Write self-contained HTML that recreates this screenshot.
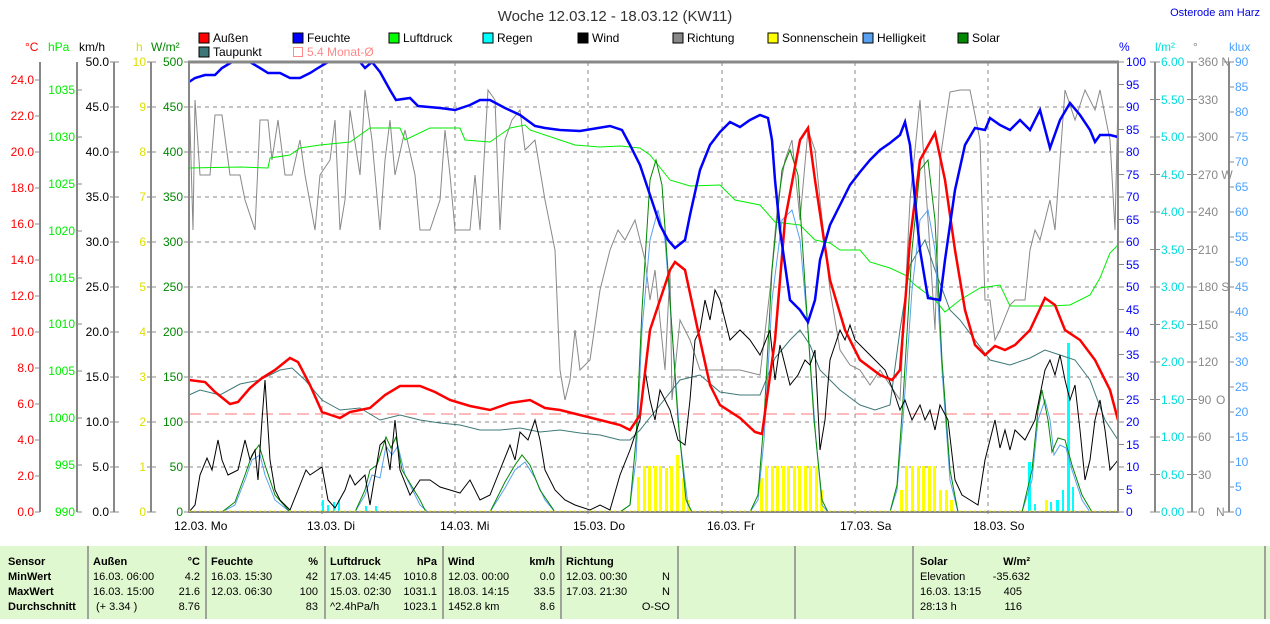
<!DOCTYPE html>
<html><head><meta charset="utf-8"><style>
body{margin:0;background:#fff;width:1270px;height:619px;overflow:hidden;font-family:"Liberation Sans",sans-serif}
svg text{font-family:"Liberation Sans",sans-serif}
</style></head><body>
<svg width="1270" height="619" viewBox="0 0 1270 619" xmlns="http://www.w3.org/2000/svg">
<text x="615" y="21" font-size="15" text-anchor="middle" fill="#333">Woche 12.03.12 - 18.03.12 (KW11)</text>
<text x="1260" y="16" font-size="11" text-anchor="end" fill="#0000e0">Osterode am Harz</text>
<!-- legend -->
<g font-size="12" fill="#000">
<rect x="199" y="33" width="10" height="10" fill="#f00" stroke="#000"/><text x="213" y="42">Außen</text>
<rect x="293" y="33" width="10" height="10" fill="#00f" stroke="#000"/><text x="307" y="42">Feuchte</text>
<rect x="389" y="33" width="10" height="10" fill="#0f0" stroke="#000"/><text x="403" y="42">Luftdruck</text>
<rect x="483" y="33" width="10" height="10" fill="#0ff" stroke="#000"/><text x="497" y="42">Regen</text>
<rect x="578" y="33" width="10" height="10" fill="#000" stroke="#000"/><text x="592" y="42">Wind</text>
<rect x="673" y="33" width="10" height="10" fill="#888" stroke="#000"/><text x="687" y="42">Richtung</text>
<rect x="768" y="33" width="10" height="10" fill="#ff0" stroke="#000"/><text x="782" y="42">Sonnenschein</text>
<rect x="863" y="33" width="10" height="10" fill="#5aa0f0" stroke="#000"/><text x="877" y="42">Helligkeit</text>
<rect x="958" y="33" width="10" height="10" fill="#080" stroke="#000"/><text x="972" y="42">Solar</text>
<rect x="199" y="47" width="10" height="10" fill="#3d7878" stroke="#000"/><text x="213" y="56">Taupunkt</text>
<rect x="293.5" y="47.5" width="9" height="9" fill="none" stroke="#f88"/><text x="307" y="56" fill="#f88">5.4 Monat-Ø</text>
</g>
<!-- units -->
<g font-size="12">
<text x="25" y="51" fill="#f00">°C</text><text x="48" y="51" fill="#0e0">hPa</text><text x="79" y="51" fill="#000">km/h</text>
<text x="136" y="51" fill="#dd0">h</text><text x="151" y="51" fill="#080">W/m²</text>
<text x="1119" y="51" fill="#00f">%</text><text x="1155" y="51" fill="#0dd">l/m²</text><text x="1193" y="51" fill="#888">°</text><text x="1229" y="51" fill="#4aa0ff">klux</text>
</g>
<!-- axis lines -->
<g stroke="#888" stroke-width="2">
<line x1="40" y1="62" x2="40" y2="512"/><line x1="77" y1="62" x2="77" y2="512"/><line x1="114" y1="62" x2="114" y2="512"/><line x1="151" y1="62" x2="151" y2="512"/>
<line x1="1155" y1="62" x2="1155" y2="512"/><line x1="1192" y1="62" x2="1192" y2="512"/><line x1="1229" y1="62" x2="1229" y2="512"/>
</g>
<!-- grid -->
<g stroke="#888" stroke-dasharray="4,4" stroke-width="1">
<line x1="189" y1="107" x2="1118" y2="107"/><line x1="189" y1="152" x2="1118" y2="152"/><line x1="189" y1="197" x2="1118" y2="197"/><line x1="189" y1="242" x2="1118" y2="242"/><line x1="189" y1="287" x2="1118" y2="287"/><line x1="189" y1="332" x2="1118" y2="332"/><line x1="189" y1="377" x2="1118" y2="377"/><line x1="189" y1="422" x2="1118" y2="422"/><line x1="189" y1="467" x2="1118" y2="467"/>
<line x1="322" y1="62" x2="322" y2="518"/><line x1="455" y1="62" x2="455" y2="518"/><line x1="588" y1="62" x2="588" y2="518"/><line x1="722" y1="62" x2="722" y2="518"/><line x1="855" y1="62" x2="855" y2="518"/><line x1="988" y1="62" x2="988" y2="518"/>
</g>
<!-- left tick labels -->
<g font-size="12" text-anchor="end" fill="#f00">
<text x="34" y="516">0.0</text><text x="34" y="480">2.0</text><text x="34" y="444">4.0</text><text x="34" y="408">6.0</text><text x="34" y="372">8.0</text><text x="34" y="336">10.0</text><text x="34" y="300">12.0</text><text x="34" y="264">14.0</text><text x="34" y="228">16.0</text><text x="34" y="192">18.0</text><text x="34" y="156">20.0</text><text x="34" y="120">22.0</text><text x="34" y="84">24.0</text>
</g>
<g stroke="#888"><line x1="35" y1="512" x2="40" y2="512"/><line x1="35" y1="476" x2="40" y2="476"/><line x1="35" y1="440" x2="40" y2="440"/><line x1="35" y1="404" x2="40" y2="404"/><line x1="35" y1="368" x2="40" y2="368"/><line x1="35" y1="332" x2="40" y2="332"/><line x1="35" y1="296" x2="40" y2="296"/><line x1="35" y1="260" x2="40" y2="260"/><line x1="35" y1="224" x2="40" y2="224"/><line x1="35" y1="188" x2="40" y2="188"/><line x1="35" y1="152" x2="40" y2="152"/><line x1="35" y1="116" x2="40" y2="116"/><line x1="35" y1="80" x2="40" y2="80"/>
<line x1="77" y1="512" x2="82" y2="512"/><line x1="77" y1="465" x2="82" y2="465"/><line x1="77" y1="418" x2="82" y2="418"/><line x1="77" y1="371" x2="82" y2="371"/><line x1="77" y1="324" x2="82" y2="324"/><line x1="77" y1="278" x2="82" y2="278"/><line x1="77" y1="231" x2="82" y2="231"/><line x1="77" y1="184" x2="82" y2="184"/><line x1="77" y1="137" x2="82" y2="137"/><line x1="77" y1="90" x2="82" y2="90"/></g>
<g font-size="12" text-anchor="end" fill="#0e0">
<text x="75" y="516">990</text><text x="75" y="469">995</text><text x="75" y="422">1000</text><text x="75" y="375">1005</text><text x="75" y="328">1010</text><text x="75" y="282">1015</text><text x="75" y="235">1020</text><text x="75" y="188">1025</text><text x="75" y="141">1030</text><text x="75" y="94">1035</text>
</g>
<g font-size="12" text-anchor="end" fill="#000">
<text x="109" y="516">0.0</text><text x="109" y="471">5.0</text><text x="109" y="426">10.0</text><text x="109" y="381">15.0</text><text x="109" y="336">20.0</text><text x="109" y="291">25.0</text><text x="109" y="246">30.0</text><text x="109" y="201">35.0</text><text x="109" y="156">40.0</text><text x="109" y="111">45.0</text><text x="109" y="66">50.0</text>
</g>
<g font-size="12" text-anchor="end" fill="#dd0">
<text x="146" y="516">0</text><text x="146" y="471">1</text><text x="146" y="426">2</text><text x="146" y="381">3</text><text x="146" y="336">4</text><text x="146" y="291">5</text><text x="146" y="246">6</text><text x="146" y="201">7</text><text x="146" y="156">8</text><text x="146" y="111">9</text><text x="146" y="66">10</text>
</g>
<g font-size="12" text-anchor="end" fill="#080">
<text x="183" y="516">0</text><text x="183" y="471">50</text><text x="183" y="426">100</text><text x="183" y="381">150</text><text x="183" y="336">200</text><text x="183" y="291">250</text><text x="183" y="246">300</text><text x="183" y="201">350</text><text x="183" y="156">400</text><text x="183" y="111">450</text><text x="183" y="66">500</text>
</g>
<g stroke="#888"><line x1="110" y1="512" x2="119" y2="512"/><line x1="110" y1="467" x2="119" y2="467"/><line x1="110" y1="422" x2="119" y2="422"/><line x1="110" y1="377" x2="119" y2="377"/><line x1="110" y1="332" x2="119" y2="332"/><line x1="110" y1="287" x2="119" y2="287"/><line x1="110" y1="242" x2="119" y2="242"/><line x1="110" y1="197" x2="119" y2="197"/><line x1="110" y1="152" x2="119" y2="152"/><line x1="110" y1="107" x2="119" y2="107"/><line x1="110" y1="62" x2="119" y2="62"/>
<line x1="147" y1="512" x2="156" y2="512"/><line x1="147" y1="467" x2="156" y2="467"/><line x1="147" y1="422" x2="156" y2="422"/><line x1="147" y1="377" x2="156" y2="377"/><line x1="147" y1="332" x2="156" y2="332"/><line x1="147" y1="287" x2="156" y2="287"/><line x1="147" y1="242" x2="156" y2="242"/><line x1="147" y1="197" x2="156" y2="197"/><line x1="147" y1="152" x2="156" y2="152"/><line x1="147" y1="107" x2="156" y2="107"/><line x1="147" y1="62" x2="156" y2="62"/>
<line x1="184" y1="512" x2="189" y2="512"/><line x1="184" y1="467" x2="189" y2="467"/><line x1="184" y1="422" x2="189" y2="422"/><line x1="184" y1="377" x2="189" y2="377"/><line x1="184" y1="332" x2="189" y2="332"/><line x1="184" y1="287" x2="189" y2="287"/><line x1="184" y1="242" x2="189" y2="242"/><line x1="184" y1="197" x2="189" y2="197"/><line x1="184" y1="152" x2="189" y2="152"/><line x1="184" y1="107" x2="189" y2="107"/><line x1="184" y1="62" x2="189" y2="62"/></g>
<!-- right tick labels -->
<g font-size="12" fill="#00f">
<text x="1126" y="516">0</text><text x="1126" y="494">5</text><text x="1126" y="471">10</text><text x="1126" y="449">15</text><text x="1126" y="426">20</text><text x="1126" y="404">25</text><text x="1126" y="381">30</text><text x="1126" y="359">35</text><text x="1126" y="336">40</text><text x="1126" y="314">45</text><text x="1126" y="291">50</text><text x="1126" y="269">55</text><text x="1126" y="246">60</text><text x="1126" y="224">65</text><text x="1126" y="201">70</text><text x="1126" y="179">75</text><text x="1126" y="156">80</text><text x="1126" y="134">85</text><text x="1126" y="111">90</text><text x="1126" y="89">95</text><text x="1126" y="66">100</text>
</g>
<g font-size="12" fill="#0dd">
<text x="1161" y="516">0.00</text><text x="1161" y="479">0.50</text><text x="1161" y="441">1.00</text><text x="1161" y="404">1.50</text><text x="1161" y="366">2.00</text><text x="1161" y="329">2.50</text><text x="1161" y="291">3.00</text><text x="1161" y="254">3.50</text><text x="1161" y="216">4.00</text><text x="1161" y="179">4.50</text><text x="1161" y="141">5.00</text><text x="1161" y="104">5.50</text><text x="1161" y="66">6.00</text>
</g>
<g font-size="12" fill="#888">
<text x="1198" y="516">0</text><text x="1198" y="479">30</text><text x="1198" y="441">60</text><text x="1198" y="404">90</text><text x="1198" y="366">120</text><text x="1198" y="329">150</text><text x="1198" y="291">180 S</text><text x="1198" y="254">210</text><text x="1198" y="216">240</text><text x="1198" y="179">270 W</text><text x="1198" y="141">300</text><text x="1198" y="104">330</text><text x="1198" y="66">360 N</text>
<text x="1216" y="516">N</text><text x="1216" y="404">O</text>
</g>
<g font-size="12" fill="#4aa0ff">
<text x="1235" y="516">0</text><text x="1235" y="491">5</text><text x="1235" y="466">10</text><text x="1235" y="441">15</text><text x="1235" y="416">20</text><text x="1235" y="391">25</text><text x="1235" y="366">30</text><text x="1235" y="341">35</text><text x="1235" y="316">40</text><text x="1235" y="291">45</text><text x="1235" y="266">50</text><text x="1235" y="241">55</text><text x="1235" y="216">60</text><text x="1235" y="191">65</text><text x="1235" y="166">70</text><text x="1235" y="141">75</text><text x="1235" y="116">80</text><text x="1235" y="91">85</text><text x="1235" y="66">90</text>
</g>
<g stroke="#888">
<line x1="1118" y1="512" x2="1124" y2="512"/><line x1="1118" y1="489.5" x2="1124" y2="489.5"/><line x1="1118" y1="467" x2="1124" y2="467"/><line x1="1118" y1="444.5" x2="1124" y2="444.5"/><line x1="1118" y1="422" x2="1124" y2="422"/><line x1="1118" y1="399.5" x2="1124" y2="399.5"/><line x1="1118" y1="377" x2="1124" y2="377"/><line x1="1118" y1="354.5" x2="1124" y2="354.5"/><line x1="1118" y1="332" x2="1124" y2="332"/><line x1="1118" y1="309.5" x2="1124" y2="309.5"/><line x1="1118" y1="287" x2="1124" y2="287"/><line x1="1118" y1="264.5" x2="1124" y2="264.5"/><line x1="1118" y1="242" x2="1124" y2="242"/><line x1="1118" y1="219.5" x2="1124" y2="219.5"/><line x1="1118" y1="197" x2="1124" y2="197"/><line x1="1118" y1="174.5" x2="1124" y2="174.5"/><line x1="1118" y1="152" x2="1124" y2="152"/><line x1="1118" y1="129.5" x2="1124" y2="129.5"/><line x1="1118" y1="107" x2="1124" y2="107"/><line x1="1118" y1="84.5" x2="1124" y2="84.5"/><line x1="1118" y1="62" x2="1124" y2="62"/>
<line x1="1150" y1="512" x2="1160" y2="512"/><line x1="1150" y1="474.5" x2="1160" y2="474.5"/><line x1="1150" y1="437" x2="1160" y2="437"/><line x1="1150" y1="399.5" x2="1160" y2="399.5"/><line x1="1150" y1="362" x2="1160" y2="362"/><line x1="1150" y1="324.5" x2="1160" y2="324.5"/><line x1="1150" y1="287" x2="1160" y2="287"/><line x1="1150" y1="249.5" x2="1160" y2="249.5"/><line x1="1150" y1="212" x2="1160" y2="212"/><line x1="1150" y1="174.5" x2="1160" y2="174.5"/><line x1="1150" y1="137" x2="1160" y2="137"/><line x1="1150" y1="99.5" x2="1160" y2="99.5"/><line x1="1150" y1="62" x2="1160" y2="62"/>
<line x1="1187" y1="512" x2="1197" y2="512"/><line x1="1187" y1="474.5" x2="1197" y2="474.5"/><line x1="1187" y1="437" x2="1197" y2="437"/><line x1="1187" y1="399.5" x2="1197" y2="399.5"/><line x1="1187" y1="362" x2="1197" y2="362"/><line x1="1187" y1="324.5" x2="1197" y2="324.5"/><line x1="1187" y1="287" x2="1197" y2="287"/><line x1="1187" y1="249.5" x2="1197" y2="249.5"/><line x1="1187" y1="212" x2="1197" y2="212"/><line x1="1187" y1="174.5" x2="1197" y2="174.5"/><line x1="1187" y1="137" x2="1197" y2="137"/><line x1="1187" y1="99.5" x2="1197" y2="99.5"/><line x1="1187" y1="62" x2="1197" y2="62"/>
<line x1="1224" y1="512" x2="1234" y2="512"/><line x1="1229" y1="487" x2="1234" y2="487"/><line x1="1229" y1="462" x2="1234" y2="462"/><line x1="1229" y1="437" x2="1234" y2="437"/><line x1="1229" y1="412" x2="1234" y2="412"/><line x1="1229" y1="387" x2="1234" y2="387"/><line x1="1229" y1="362" x2="1234" y2="362"/><line x1="1229" y1="337" x2="1234" y2="337"/><line x1="1229" y1="312" x2="1234" y2="312"/><line x1="1229" y1="287" x2="1234" y2="287"/><line x1="1229" y1="262" x2="1234" y2="262"/><line x1="1229" y1="237" x2="1234" y2="237"/><line x1="1229" y1="212" x2="1234" y2="212"/><line x1="1229" y1="187" x2="1234" y2="187"/><line x1="1229" y1="162" x2="1234" y2="162"/><line x1="1229" y1="137" x2="1234" y2="137"/><line x1="1229" y1="112" x2="1234" y2="112"/><line x1="1229" y1="87" x2="1234" y2="87"/><line x1="1224" y1="62" x2="1234" y2="62"/>
</g>
<!-- x labels -->
<g font-size="12" fill="#000">
<text x="174" y="530">12.03.  Mo</text><text x="307" y="530">13.03.  Di</text><text x="440" y="530">14.03.  Mi</text><text x="573" y="530">15.03.  Do</text><text x="707" y="530">16.03.  Fr</text><text x="840" y="530">17.03.  Sa</text><text x="973" y="530">18.03.  So</text>
</g>
<!-- bars sunshine -->
<g fill="#ff0">
<rect x="637" y="477" width="3" height="35"/><rect x="643" y="466" width="3" height="46"/><rect x="648" y="466" width="3" height="46"/><rect x="654" y="466" width="3" height="46"/><rect x="659" y="466" width="3" height="46"/><rect x="665" y="468" width="3" height="44"/><rect x="670" y="466" width="3" height="46"/><rect x="676" y="455" width="3" height="57"/><rect x="682" y="478" width="3" height="34"/><rect x="687" y="500" width="3" height="12"/>
<rect x="760" y="478" width="3" height="34"/><rect x="765" y="466" width="3" height="46"/><rect x="771" y="466" width="3" height="46"/><rect x="776" y="466" width="3" height="46"/><rect x="782" y="466" width="3" height="46"/><rect x="787" y="466" width="3" height="46"/><rect x="793" y="466" width="3" height="46"/><rect x="798" y="466" width="3" height="46"/><rect x="804" y="466" width="3" height="46"/><rect x="809" y="466" width="3" height="46"/><rect x="815" y="466" width="3" height="46"/><rect x="820" y="490" width="3" height="22"/>
<rect x="900" y="490" width="3" height="22"/><rect x="905" y="466" width="3" height="46"/><rect x="911" y="466" width="3" height="46"/><rect x="917" y="466" width="3" height="46"/><rect x="922" y="466" width="3" height="46"/><rect x="928" y="466" width="3" height="46"/><rect x="933" y="466" width="3" height="46"/><rect x="939" y="490" width="3" height="22"/><rect x="945" y="490" width="3" height="22"/><rect x="950" y="500" width="3" height="12"/>
<rect x="1045" y="500" width="3" height="12"/>
</g>
<g fill="#0ff">
<rect x="322" y="500" width="2" height="12"/><rect x="327" y="505" width="2" height="7"/><rect x="333" y="502" width="2" height="10"/><rect x="338" y="500" width="2" height="12"/><rect x="365" y="506" width="2" height="6"/><rect x="375" y="506" width="2" height="6"/>
<rect x="1028" y="462" width="3" height="50"/><rect x="1034" y="504" width="2" height="8"/><rect x="1050" y="502" width="2" height="10"/><rect x="1056" y="500" width="3" height="12"/><rect x="1062" y="490" width="2" height="22"/><rect x="1067" y="343" width="3" height="169"/><rect x="1072" y="487" width="2" height="25"/>
</g>
<!-- month avg -->
<line x1="189" y1="414" x2="1118" y2="414" stroke="#f77" stroke-dasharray="12,6"/>
<!-- Richtung -->
<polyline fill="none" stroke="#888" stroke-width="1" points="189,90 193,230 195,100 200,175 210,175 215,115 222,115 230,175 240,175 245,200 255,230 260,120 268,120 272,160 278,120 285,175 292,175 300,140 305,175 315,230 320,175 330,160 335,120 340,230 345,200 350,110 360,175 365,90 372,140 380,230 385,160 390,120 395,175 405,130 415,175 420,230 430,230 440,200 445,130 450,175 455,230 470,230 475,175 480,230 488,90 495,100 500,230 505,140 512,120 520,110 525,150 535,140 545,200 555,250 560,370 565,400 570,380 575,330 580,370 590,360 600,290 605,270 610,250 618,230 625,240 635,220 645,260 650,300 655,270 665,370 670,270 672,400 680,320 690,340 700,370 720,370 740,370 760,375 770,290 778,200 785,160 792,140 800,220 808,130 815,150 820,200 830,290 840,350 850,365 860,370 870,385 880,370 890,385 900,400 910,200 920,100 930,250 935,330 940,160 950,92 960,90 970,90 980,140 985,300 990,300 995,340 1000,330 1010,305 1015,300 1025,300 1030,250 1035,230 1040,240 1050,200 1055,230 1065,90 1075,120 1085,90 1095,110 1100,90 1110,140 1115,230 1118,100"/>
<!-- Luftdruck -->
<polyline fill="none" stroke="#0e0" stroke-width="1" points="189,168 240,167 268,168 270,158 290,155 300,148 320,145 350,142 370,128 400,128 405,140 430,128 460,128 465,140 490,142 510,128 525,125 530,130 560,140 575,145 600,147 620,146 640,148 650,155 670,180 690,186 720,185 735,200 760,205 775,222 800,225 815,240 830,243 840,250 860,250 870,262 890,268 905,275 915,285 935,300 945,312 960,300 980,288 1000,285 1010,306 1050,306 1070,305 1090,295 1100,278 1110,253 1118,245"/>
<!-- Taupunkt -->
<polyline fill="none" stroke="#3d7878" stroke-width="1" points="189,395 200,390 220,395 240,384 260,380 280,370 292,368 305,380 322,400 340,410 360,408 380,420 400,415 420,420 440,423 460,425 480,430 500,430 520,428 540,432 560,430 580,433 600,435 620,440 630,440 640,430 660,405 680,380 700,375 720,392 740,395 760,395 775,358 790,340 800,330 810,345 820,370 840,390 860,405 875,410 890,405 900,330 910,265 925,240 935,270 950,310 960,320 975,340 990,360 1010,365 1030,358 1045,350 1060,355 1075,360 1090,380 1105,420 1118,440"/>
<!-- Helligkeit -->
<polyline fill="none" stroke="#5aa0f0" stroke-width="1" points="222,512 235,505 245,480 252,460 260,455 265,475 275,500 290,512 355,512 365,495 372,475 380,478 386,446 392,455 398,446 405,475 420,505 428,512 490,512 505,488 515,470 525,462 535,478 545,500 555,512 620,512 630,505 636,460 642,330 650,240 658,210 665,240 672,330 680,440 688,505 692,512 750,512 758,500 764,440 772,300 782,220 792,210 800,240 808,330 816,440 822,505 828,512 890,512 897,490 903,420 912,290 920,220 928,210 935,250 942,370 950,480 958,512 1022,512 1032,480 1038,420 1045,400 1050,420 1054,455 1060,445 1066,448 1072,470 1082,500 1090,512"/>
<!-- Solar -->
<polyline fill="none" stroke="#080" stroke-width="1" points="222,512 235,502 245,475 252,455 259,445 265,465 275,495 290,512 355,512 365,490 370,470 377,465 386,437 391,448 396,437 402,470 420,500 426,512 490,512 505,482 515,465 522,455 530,465 540,490 555,512 620,512 630,505 636,440 642,310 650,180 656,160 662,185 670,300 678,420 686,500 692,512 750,512 758,495 764,420 772,270 782,170 790,150 798,175 806,300 814,420 822,500 828,512 890,512 897,485 903,400 912,250 920,170 928,160 935,220 942,360 950,470 958,512 1022,512 1032,470 1038,410 1042,390 1048,420 1052,452 1058,438 1065,440 1072,465 1082,495 1092,512"/>
<!-- Wind -->
<polyline fill="none" stroke="#000" stroke-width="1" points="189,512 195,505 200,475 207,458 212,470 218,440 222,460 228,475 238,470 245,440 250,460 255,450 258,480 262,420 265,380 270,460 275,490 280,500 290,510 300,485 306,470 310,475 322,467 328,500 335,508 345,490 350,475 355,485 360,480 365,475 370,505 380,445 385,440 390,470 395,420 400,470 410,495 420,480 430,480 440,487 450,490 460,493 470,480 480,500 490,495 500,470 510,445 515,460 520,432 528,440 535,420 540,440 545,470 555,490 565,500 575,505 590,510 600,505 610,510 620,475 630,450 640,420 645,370 650,400 655,420 660,390 670,410 678,440 685,445 690,400 695,340 700,330 705,300 710,320 715,290 720,300 725,320 730,340 740,330 750,340 760,355 770,330 775,380 780,345 785,365 790,385 798,375 805,360 810,365 815,350 820,450 825,420 830,360 840,330 845,340 850,325 855,340 865,350 875,360 885,370 895,395 900,410 905,400 912,420 920,405 925,420 930,410 935,430 940,405 948,420 955,480 962,495 970,500 978,505 985,460 990,440 995,420 1000,448 1005,430 1010,450 1015,430 1025,440 1035,420 1040,395 1045,370 1050,360 1055,375 1060,355 1065,380 1070,400 1075,385 1080,430 1085,480 1090,460 1095,420 1100,400 1105,430 1110,470 1118,460"/>
<!-- Außen -->
<polyline fill="none" stroke="#f00" stroke-width="2.5" points="189,380 205,382 215,392 230,404 238,402 250,388 262,378 275,370 290,358 298,362 310,385 322,412 340,418 350,412 370,408 385,395 400,386 420,386 435,392 450,400 470,406 490,410 510,403 530,400 545,408 560,410 580,415 600,420 620,425 630,430 640,415 650,330 660,300 670,270 675,262 685,270 700,340 710,385 720,405 740,418 755,432 762,434 775,340 785,220 800,140 808,128 815,180 830,280 845,330 860,360 880,375 892,380 900,370 910,240 920,160 935,133 945,180 955,250 965,310 975,345 985,355 995,346 1005,350 1015,345 1030,330 1045,298 1055,305 1065,330 1080,340 1095,360 1110,390 1118,420"/>
<!-- Feuchte -->
<polyline fill="none" stroke="#00f" stroke-width="2.5" points="189,82 195,78 205,75 215,75 222,68 232,62 250,62 260,68 268,73 280,73 290,78 300,78 310,73 318,68 328,62 360,62 365,68 372,62 380,72 390,90 396,100 410,98 418,106 440,108 455,110 470,105 480,100 490,100 505,108 520,115 535,126 545,128 560,130 580,131 598,128 610,126 622,130 630,145 640,165 650,195 660,225 668,240 675,248 685,240 690,215 700,170 710,145 720,132 730,122 740,127 750,120 760,115 768,118 772,140 775,180 780,230 790,300 800,310 808,322 815,300 820,260 830,225 840,205 850,185 860,172 870,160 880,150 890,143 900,135 905,122 910,145 915,200 920,250 928,298 940,300 945,260 955,190 965,145 975,128 985,130 990,118 1000,125 1010,130 1020,120 1030,130 1040,110 1050,148 1060,120 1070,103 1080,115 1090,130 1095,142 1100,135 1110,135 1118,137"/>
<!-- frame -->
<line x1="188" y1="62" x2="1119" y2="62" stroke="#888" stroke-width="3"/>
<line x1="189" y1="62" x2="189" y2="513" stroke="#888" stroke-width="2"/>
<line x1="1118" y1="62" x2="1118" y2="513" stroke="#888" stroke-width="2"/>
<line x1="189" y1="512" x2="1118" y2="512" stroke="#888" stroke-width="2"/>
<line x1="189" y1="511" x2="1118" y2="511" stroke="#ee0" stroke-dasharray="2,3"/>
<!-- table -->
<rect x="0" y="546" width="1270" height="73" fill="#e0f8d0"/>
<g stroke="#888" stroke-width="1.5"><line x1="88" y1="546" x2="88" y2="619"/><line x1="206" y1="546" x2="206" y2="619"/><line x1="325" y1="546" x2="325" y2="619"/><line x1="443" y1="546" x2="443" y2="619"/><line x1="561" y1="546" x2="561" y2="619"/><line x1="678" y1="546" x2="678" y2="619"/><line x1="795" y1="546" x2="795" y2="619"/><line x1="913" y1="546" x2="913" y2="619"/><line x1="1265" y1="546" x2="1265" y2="619"/></g>
<g font-size="11" fill="#000">
<g font-weight="bold"><text x="8" y="565">Sensor</text><text x="8" y="580">MinWert</text><text x="8" y="595">MaxWert</text><text x="8" y="610">Durchschnitt</text>
<text x="93" y="565">Außen</text><text x="200" y="565" text-anchor="end">°C</text>
<text x="211" y="565">Feuchte</text><text x="318" y="565" text-anchor="end">%</text>
<text x="330" y="565">Luftdruck</text><text x="437" y="565" text-anchor="end">hPa</text>
<text x="448" y="565">Wind</text><text x="555" y="565" text-anchor="end">km/h</text>
<text x="566" y="565">Richtung</text>
<text x="920" y="565">Solar</text><text x="1030" y="565" text-anchor="end">W/m²</text></g>
<text x="93" y="580">16.03.  06:00</text><text x="200" y="580" text-anchor="end">4.2</text>
<text x="93" y="595">16.03.  15:00</text><text x="200" y="595" text-anchor="end">21.6</text>
<text x="96" y="610">(+ 3.34 )</text><text x="200" y="610" text-anchor="end">8.76</text>
<text x="211" y="580">16.03.  15:30</text><text x="318" y="580" text-anchor="end">42</text>
<text x="211" y="595">12.03.  06:30</text><text x="318" y="595" text-anchor="end">100</text>
<text x="318" y="610" text-anchor="end">83</text>
<text x="330" y="580">17.03.  14:45</text><text x="437" y="580" text-anchor="end">1010.8</text>
<text x="330" y="595">15.03.  02:30</text><text x="437" y="595" text-anchor="end">1031.1</text>
<text x="330" y="610">^2.4hPa/h</text><text x="437" y="610" text-anchor="end">1023.1</text>
<text x="448" y="580">12.03.  00:00</text><text x="555" y="580" text-anchor="end">0.0</text>
<text x="448" y="595">18.03.  14:15</text><text x="555" y="595" text-anchor="end">33.5</text>
<text x="448" y="610">1452.8 km</text><text x="555" y="610" text-anchor="end">8.6</text>
<text x="566" y="580">12.03.  00:30</text><text x="670" y="580" text-anchor="end">N</text>
<text x="566" y="595">17.03.  21:30</text><text x="670" y="595" text-anchor="end">N</text>
<text x="670" y="610" text-anchor="end">O-SO</text>
<text x="920" y="580">Elevation</text><text x="1030" y="580" text-anchor="end">-35.632</text>
<text x="920" y="595">16.03.  13:15</text><text x="1022" y="595" text-anchor="end">405</text>
<text x="920" y="610">28:13 h</text><text x="1022" y="610" text-anchor="end">116</text>
</g>
</svg>
</body></html>
